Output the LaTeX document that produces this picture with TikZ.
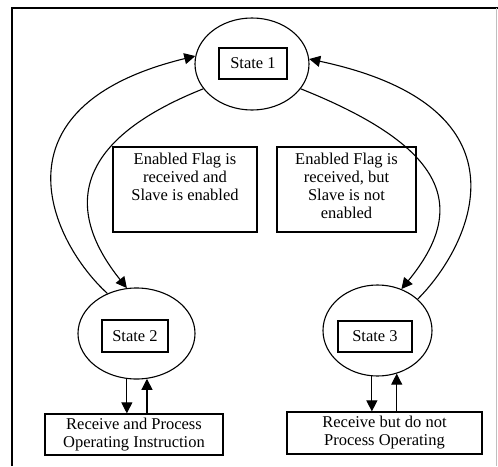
\documentclass[tikz,border=0pt]{standalone}
\usepackage{fontspec}
\setmainfont{Liberation Serif}
\usetikzlibrary{shapes.geometric,arrows.meta}
\begin{document}
\begin{tikzpicture}[x=1pt,y=-1pt,
  stateell/.style={ellipse,draw,line width=1.1pt,inner sep=0pt},
  lab/.style={rectangle,draw,line width=1.2pt,inner sep=0pt,font=\fontsize{16.5}{18}\selectfont},
  txtbox/.style={rectangle,draw,line width=1.2pt,inner sep=0pt},
  txt/.style={align=center,inner sep=0pt,font=\fontsize{16.5}{18}\selectfont},
  arr/.style={-{Triangle[length=11pt,width=11pt]},line width=1.1pt}]
\useasboundingbox (0,0) rectangle (498,466);
% frame
\coordinate (ftl) at (12,8);
\coordinate (ftr) at (498,8);
\coordinate (fbl) at (12,466);
\draw[line width=1.6pt] (fbl) -- (ftl) -- (ftr);
\draw[black!25,line width=0.8pt] (496.5,8) -- (496.5,466);
% states
\node[stateell,minimum width=114pt,minimum height=92pt] (s1) at (252,64) {};
\node[lab,minimum width=68pt,minimum height=31pt] (s1l) at (253,63.5) {State 1};
\node[stateell,minimum width=117pt,minimum height=91pt] (s2) at (136.5,333.5) {};
\node[lab,minimum width=66pt,minimum height=32pt] (s2l) at (135,336) {State 2};
\node[stateell,minimum width=109pt,minimum height=91pt] (s3) at (377.5,330.5) {};
\node[lab,minimum width=74pt,minimum height=31pt] (s3l) at (375,336.5) {State 3};
% condition boxes
\node[txtbox,minimum width=144pt,minimum height=85pt] (c1) at (185,189.5) {};
\node[txt,anchor=north] (c1t) at (185,153) {Enabled Flag is\\received and\\Slave is enabled};
\node[txtbox,minimum width=139pt,minimum height=85pt] (c2) at (346.5,189.5) {};
\node[txt,anchor=north] (c2t) at (346.5,153) {Enabled Flag is\\received, but\\Slave is not\\enabled};
% output boxes
\node[txtbox,txt,minimum width=178pt,minimum height=41pt] (o1) at (134,434.5) {Receive and Process\\Operating Instruction};
\node[txtbox,txt,minimum width=195pt,minimum height=42pt] (o2) at (384.5,433) {Receive but do not\\Process Operating};
% curved transitions
\draw[arr] (s2.126) .. controls (52,243) and (-14,107) .. (s1.172);
\draw[arr] (s1.207) .. controls (69.5,142) and (66,212) .. (s2.102);
\draw[arr] (s1.333) .. controls (449,148) and (468,208) .. (s3.60);
\draw[arr] (s3.38) .. controls (470,247) and (539,108) .. (s1.5);
% vertical arrows
\draw[arr] (s2.258) -- (s2.258 |- o1.north);
\draw[arr] (s2.283 |- o1.north) -- (s2.283);
\draw[arr] (s3.263) -- (s3.263 |- o2.north);
\draw[arr] (s3.294 |- o2.north) -- (s3.294);
\end{tikzpicture}
\end{document}
